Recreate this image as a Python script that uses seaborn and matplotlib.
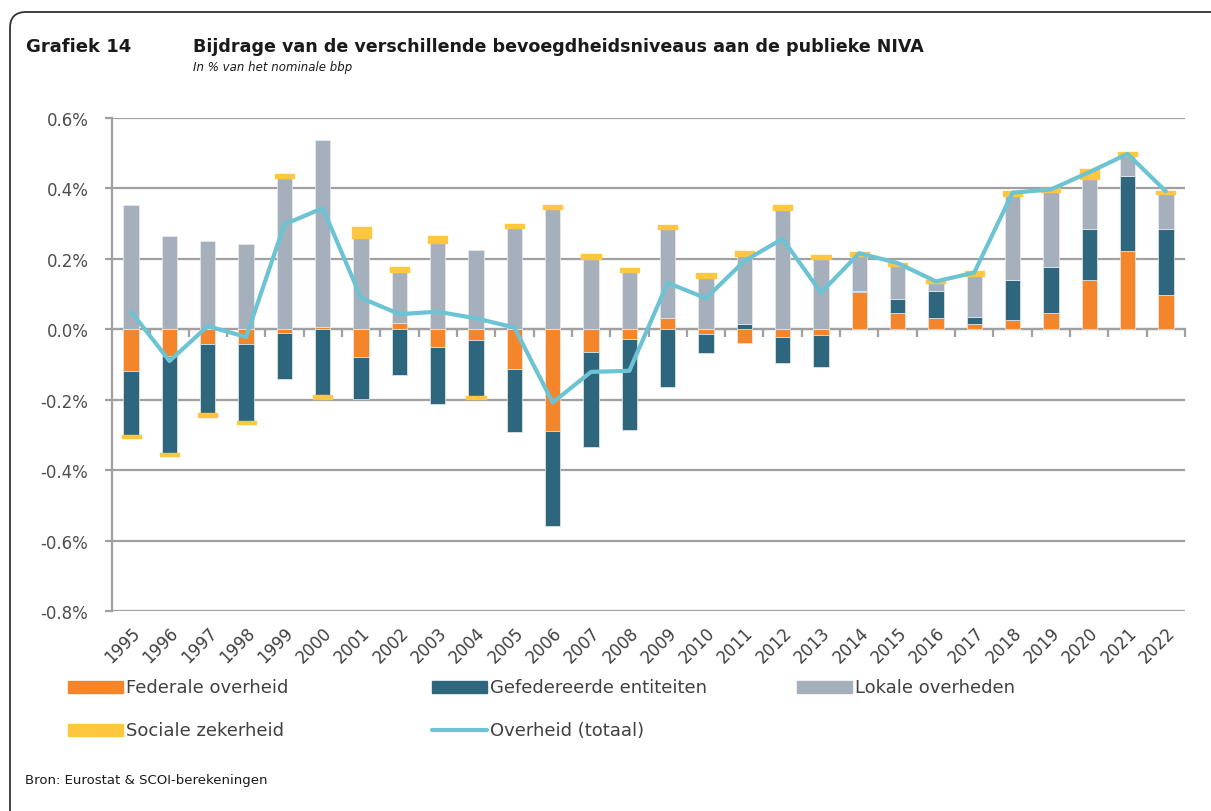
import numpy as np
import pandas as pd
import matplotlib
matplotlib.use("Agg")
import matplotlib.pyplot as plt
import seaborn as sns
from matplotlib.patches import FancyBboxPatch, Rectangle
from matplotlib.lines import Line2D
from matplotlib.ticker import FuncFormatter, FixedLocator
import matplotlib.transforms as mtransforms

# ---------------- data (in % of nominal GDP) ----------------
years = [str(y) for y in range(1995, 2023)]
federale = [-0.118, -0.076, -0.043, -0.043, -0.011, 0.007, -0.078, 0.017, -0.049, -0.030,
            -0.112, -0.288, -0.064, -0.028, 0.033, -0.012, -0.038, -0.022, -0.017, 0.105,
            0.045, 0.031, 0.014, 0.026, 0.045, 0.139, 0.221, 0.097]
gefedereerde = [-0.182, -0.274, -0.196, -0.217, -0.129, -0.187, -0.121, -0.130, -0.164, -0.159,
                -0.180, -0.270, -0.269, -0.258, -0.163, -0.056, 0.014, -0.073, -0.089, 0.003,
                0.040, 0.077, 0.020, 0.115, 0.133, 0.145, 0.215, 0.189]
lokale = [0.352, 0.264, 0.252, 0.243, 0.430, 0.530, 0.260, 0.146, 0.246, 0.226,
          0.288, 0.343, 0.200, 0.163, 0.252, 0.147, 0.194, 0.340, 0.200, 0.099,
          0.095, 0.023, 0.117, 0.237, 0.211, 0.144, 0.056, 0.097]
sociale = [-0.010, -0.011, -0.011, -0.010, 0.011, -0.011, 0.030, 0.013, 0.019, -0.010,
           0.012, 0.011, 0.013, 0.010, 0.011, 0.012, 0.015, 0.012, 0.011, 0.013,
           0.009, 0.009, 0.014, 0.014, 0.011, 0.026, 0.011, 0.011]
totaal = [0.050, -0.090, 0.009, -0.022, 0.298, 0.344, 0.089, 0.043, 0.050, 0.031,
          0.005, -0.208, -0.121, -0.118, 0.132, 0.088, 0.194, 0.257, 0.104, 0.216,
          0.188, 0.136, 0.161, 0.388, 0.397, 0.446, 0.498, 0.392]

series_names = ["Federale overheid", "Gefedereerde entiteiten", "Lokale overheden", "Sociale zekerheid"]
line_name = "Overheid (totaal)"
source = "Bron: Eurostat & SCOI-berekeningen"

C_FED = "#F4852A"
C_GEF = "#2E677D"
C_LOK = "#A6B0BD"
C_SOC = "#FFC73D"
C_TOT = "#6CC3D3"
C_GRID = "#A0A0A0"
C_TXT = "#404040"

# ---------------- figure ----------------
sns.set_theme(style="white")
plt.rcParams["font.family"] = ["DejaVu Sans"]

W, H = 1211, 812
fig = plt.figure(figsize=(W / 100, H / 100), dpi=100)
fig.patch.set_facecolor("white")

def fx(px):
    return px / W

def fy(py):
    return 1 - py / H

ax = fig.add_axes([fx(112), fy(612), fx(1185) - fx(112), fy(119) - fy(612)])

df = pd.DataFrame({"jaar": years, "fed": federale, "gef": gefedereerde,
                   "lok": lokale, "soc": sociale, "tot": totaal})
xpos = np.arange(len(df))

pos_cum = np.zeros(len(df))
neg_cum = np.zeros(len(df))
for key, col, width in [("fed", C_FED, 0.40), ("gef", C_GEF, 0.40),
                        ("lok", C_LOK, 0.40), ("soc", C_SOC, 0.50)]:
    vals = df[key].to_numpy()
    bottoms = np.where(vals >= 0, pos_cum, neg_cum)
    if key == "soc":
        ax.bar(xpos, vals, bottom=bottoms, width=width, color=col,
               edgecolor=col, linewidth=1.0, joinstyle="round", zorder=3)
    else:
        ax.bar(xpos, vals, bottom=bottoms, width=width, color=col,
               edgecolor="#E8ECEF", linewidth=0.5, zorder=3)
    pos_cum = pos_cum + np.where(vals >= 0, vals, 0)
    neg_cum = neg_cum + np.where(vals < 0, vals, 0)

sns.lineplot(x=xpos, y=df["tot"].to_numpy(), ax=ax, color=C_TOT, linewidth=3.0,
             legend=False, zorder=5, solid_joinstyle="round")


def pct(v, p):
    v = round(v, 1)
    if v == 0:
        v = 0.0
    return f"{v:.1f}%"


ax.set_xlim(-0.5, len(df) - 0.5)
ax.set_ylim(-0.8, 0.6)
ax.yaxis.set_major_locator(FixedLocator(np.round(np.arange(-0.8, 0.61, 0.2), 1)))
ax.yaxis.set_major_formatter(FuncFormatter(pct))
ax.grid(axis="y", color=C_GRID, linewidth=1.6, zorder=0)
ax.grid(axis="x", visible=False)

for s in ["top", "right", "bottom"]:
    ax.spines[s].set_visible(False)
ax.spines["left"].set_color(C_GRID)
ax.spines["left"].set_linewidth(1.6)

ax.tick_params(axis="y", left=True, length=5, width=1.6, color=C_GRID,
               labelsize=12, labelcolor="#4d4d4d", pad=12)
ax.set_xticks(xpos)
ax.set_xticklabels(years, rotation=45, ha="right", rotation_mode="anchor",
                   fontsize=12, color=C_TXT)
ax.tick_params(axis="x", bottom=True, length=0, pad=9)
ax.set_xlabel("")
ax.set_ylabel("")

# zero axis with category-boundary ticks
sec = ax.secondary_xaxis(0, transform=ax.transData)
sec.set_xticks(np.arange(len(df)) + 0.5)
sec.xaxis.set_ticks_position("bottom")
sec.tick_params(axis="x", direction="out", length=6, width=1.6, color=C_GRID,
                labelbottom=False, labeltop=False)
sec.spines["bottom"].set_color(C_GRID)
sec.spines["bottom"].set_linewidth(1.6)
for s in ["top", "left", "right"]:
    sec.spines[s].set_visible(False)

# ---------------- titles ----------------
fig.text(fx(26), fy(47), "Grafiek 14", fontsize=13, fontweight="bold", color="#1a1a1a",
         ha="left", va="center")
fig.text(fx(193), fy(47), "Bijdrage van de verschillende bevoegdheidsniveaus aan de publieke NIVA",
         fontsize=12.65, fontweight="bold", color="#1a1a1a", ha="left", va="center")
fig.text(fx(193), fy(68), "In % van het nominale bbp", fontsize=8.5, style="italic",
         color="#1a1a1a", ha="left", va="center")
fig.text(fx(25), fy(781), source, fontsize=9.5, color="#1a1a1a", ha="left", va="center")

# ---------------- legend (manual) ----------------
leg_items = [
    ("patch", C_FED, series_names[0], 68, 688),
    ("patch", C_GEF, series_names[1], 432, 688),
    ("patch", C_LOK, series_names[2], 797, 688),
    ("patch", C_SOC, series_names[3], 68, 731),
    ("line", C_TOT, line_name, 432, 731),
]
for kind, col, label, px, py in leg_items:
    if kind == "patch":
        fig.patches.append(Rectangle((fx(px), fy(py + 6)), fx(55), 12 / H, color=col,
                                     transform=fig.transFigure, figure=fig))
    else:
        fig.lines.append(Line2D([fx(px), fx(px + 55)], [fy(py), fy(py)], color=col,
                                linewidth=3.0, transform=fig.transFigure, figure=fig,
                                solid_capstyle="round"))
    fig.text(fx(px + 58), fy(py), label, fontsize=13, color=C_TXT, ha="left", va="center")

# ---------------- rounded frame ----------------
frame = FancyBboxPatch((10, -30), 1230, H - 13 + 30,
                       boxstyle="round,pad=0,rounding_size=16",
                       transform=mtransforms.IdentityTransform(),
                       facecolor="none", edgecolor="#333333", linewidth=1.3)
fig.patches.append(frame)

fig.savefig("out.png", dpi=100, facecolor="white")
